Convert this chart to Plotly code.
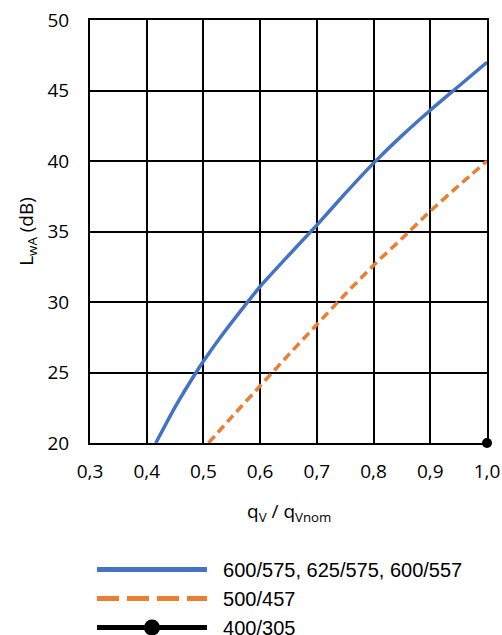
import plotly.graph_objects as go

# Data
blue_x = [0.416, 0.45, 0.487, 0.5, 0.53, 0.575, 0.6, 0.65, 0.7, 0.75, 0.8, 0.85, 0.9, 0.95, 1.0]
blue_y = [20.0, 22.55, 25.0, 25.8, 27.5, 29.85, 31.1, 33.3, 35.45, 37.7, 39.85, 41.8, 43.6, 45.3, 47.0]

orange_x = [0.509, 0.55, 0.6, 0.65, 0.7, 0.75, 0.8, 0.85, 0.9, 0.95, 1.0]
orange_y = [20.0, 21.85, 24.05, 26.25, 28.4, 30.55, 32.6, 34.5, 36.45, 38.25, 40.0]

black_x = [1.0]
black_y = [20.0]

series_names = ["600/575, 625/575, 600/557", "500/457", "400/305"]

x_ticks = [0.3, 0.4, 0.5, 0.6, 0.7, 0.8, 0.9, 1.0]
y_ticks = [20, 25, 30, 35, 40, 45, 50]

BLUE = "#4472C4"
ORANGE = "#ED7D31"
BLACK = "#000000"

fig = go.Figure()

# plotted series (legend handled by dedicated entries)
fig.add_trace(go.Scatter(x=blue_x, y=blue_y, mode="lines",
                         line=dict(color=BLUE, width=3.5, shape="spline", smoothing=0.6),
                         showlegend=False, hoverinfo="skip"))
fig.add_trace(go.Scatter(x=orange_x, y=orange_y, mode="lines",
                         line=dict(color=ORANGE, width=3.5, dash="9px,5px", shape="spline", smoothing=0.6),
                         showlegend=False, hoverinfo="skip"))
fig.add_trace(go.Scatter(x=black_x, y=black_y, mode="markers", marker=dict(color=BLACK, size=10),
                         cliponaxis=False, showlegend=False, hoverinfo="skip"))

# legend entries
pad = "\u00a0\u00a0"
fig.add_trace(go.Scatter(x=[None], y=[None], mode="lines", name=pad + series_names[0],
                         line=dict(color=BLUE, width=5)))
fig.add_trace(go.Scatter(x=[None], y=[None], mode="lines", name=pad + series_names[1],
                         line=dict(color=ORANGE, width=5, dash="22px,8px")))
fig.add_trace(go.Scatter(x=[None], y=[None], mode="lines+markers", name=pad + series_names[2],
                         line=dict(color=BLACK, width=5), marker=dict(color=BLACK, size=17)))

# body margin removed in the page, so the figure fills the 502x635 window
fig.update_layout(
    width=502, height=635,
    margin=dict(l=90, r=15, t=20, b=192, autoexpand=False),
    paper_bgcolor="white", plot_bgcolor="white",
    separators=", ",
    font=dict(family="Open Sans", size=18, color="black"),
    showlegend=True,
    legend=dict(x=0.005, y=-0.253, xanchor="left", yanchor="top",
                itemwidth=110, font=dict(family="Liberation Sans", size=20),
                tracegroupgap=0, bgcolor="rgba(0,0,0,0)"),
    annotations=[dict(text="q<sub>V</sub> / q<sub>Vnom</sub>", xref="paper", yref="paper",
                      x=0.5, y=-0.163, xanchor="center", yanchor="middle", showarrow=False,
                      font=dict(family="Open Sans", size=19))],
)

fig.update_xaxes(
    range=[0.3, 1.0], tickvals=x_ticks, tickformat=".1f",
    showgrid=True, gridcolor="black", gridwidth=2,
    showline=True, linecolor="black", linewidth=2, mirror=True,
    zeroline=False, ticks="", ticklabelstandoff=10, automargin=False,
    ticklabeloverflow="allow",
    tickfont=dict(family="Open Sans", size=19),
)
fig.update_yaxes(
    range=[20, 50], tickvals=y_ticks,
    showgrid=True, gridcolor="black", gridwidth=2,
    showline=True, linecolor="black", linewidth=2, mirror=True,
    zeroline=False, ticks="", ticklabelstandoff=15, automargin=False,
    ticklabeloverflow="allow",
    tickfont=dict(family="Open Sans", size=19),
    title=dict(text="L<sub>wA</sub> (dB)", font=dict(family="Open Sans", size=19), standoff=9),
)

fig.write_html(
    "out.html",
    config={"displayModeBar": False},
    post_script="document.body.style.margin='0';document.body.style.overflow='hidden';"
                "document.documentElement.style.overflow='hidden';",
)
